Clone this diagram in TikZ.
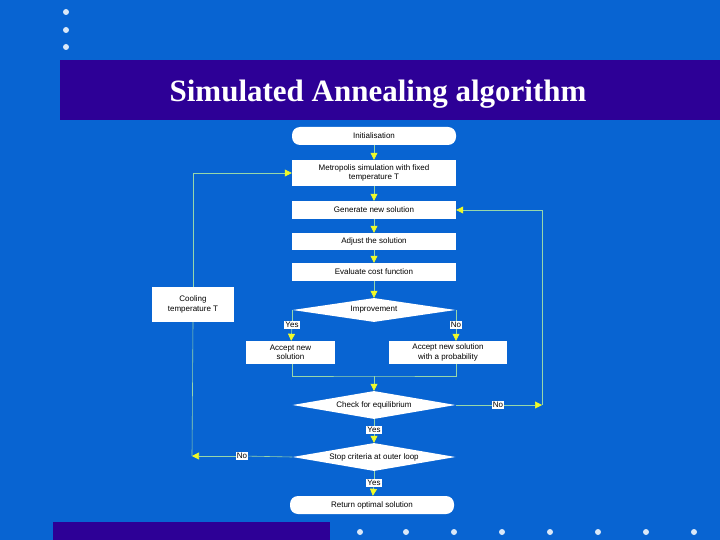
\documentclass[tikz,border=0pt]{standalone}
\usepackage{fontspec}
\setmainfont{Liberation Sans}
\newfontfamily\titlefont{Liberation Serif}
\usetikzlibrary{shapes.geometric,arrows.meta}
\definecolor{bg}{RGB}{8,100,210}
\definecolor{band}{RGB}{45,0,150}
\definecolor{ln}{RGB}{150,215,170}
\definecolor{tip}{RGB}{240,250,40}
\tikzset{
 box/.style={draw=none,fill=white,minimum height=#1,inner sep=0pt,align=center,font=\fontsize{8}{9.5}\selectfont},
 rbox/.style={box=18pt,rounded corners=8pt},
 dia/.style={diamond,fill=white,aspect=6,inner sep=0pt,align=center,font=\fontsize{8}{9.5}\selectfont},
 lab/.style={fill=white,inner sep=1pt,font=\fontsize{8}{9.5}\selectfont},
 con/.style={draw=ln,line width=0.6pt},
 arr/.style={con,-{Triangle[length=7pt,width=7pt,fill=tip,color=tip]}},
 dot/.style={circle,fill=white!85!bg,inner sep=0pt,minimum size=6pt}
}
\begin{document}
\begin{tikzpicture}[x=1pt,y=-1pt]
\fill[bg] (0,0) rectangle (720,540);
\useasboundingbox (0,0) rectangle (720,540);
\fill[band] (60,60) rectangle (720,120);
\node[text=white,font=\titlefont\bfseries\fontsize{31}{34}\selectfont] (title) at (378,94) {Simulated Annealing algorithm};
\foreach \y [count=\i] in {12,30,47} \node[dot] (ld\i) at (66,\y) {};
\fill[band] (53,522) rectangle (330,540);
\foreach \x [count=\i] in {360,406,454,502,550,598,646,694} \node[dot] (bd\i) at (\x,532) {};
\node[rbox,minimum width=164pt] (init) at (374,136) {Initialisation};
\node[box=26pt,minimum width=164pt] (met) at (374,173) {Metropolis simulation with fixed\\temperature T};
\node[box=18pt,minimum width=164pt] (gen) at (374,210) {Generate new solution};
\node[box=17pt,minimum width=164pt] (adj) at (374,241.5) {Adjust the solution};
\node[box=18pt,minimum width=164pt] (eva) at (374,272) {Evaluate cost function};
\node[dia,minimum width=163pt,minimum height=24pt] (imp) at (374,310) {Improvement};
\node[box=23pt,minimum width=89pt] (acc) at (290.5,352.5) {Accept new\\solution};
\node[box=23pt,minimum width=118pt] (acp) at (448,352.5) {Accept new solution\\with a probability};
\node[dia,minimum width=163pt,minimum height=28pt] (chk) at (374,405) {Check for equilibrium};
\node[dia,minimum width=163pt,minimum height=28pt] (stp) at (374,457) {Stop criteria at outer loop};
\node[rbox,minimum width=164pt] (ret) at (372,505) {Return optimal solution};
\node[box=35pt,minimum width=82pt] (cool) at (193,304.5) {Cooling\\temperature T};
\coordinate (m) at (374,376);
\coordinate (r) at (542,405);
\node[lab] (y1) at (292,325) {Yes};
\node[lab] (n1) at (456,325) {No};
\node[lab] (n2) at (498,405) {No};
\node[lab] (y2) at (374,430) {Yes};
\node[lab] (n3) at (242,456) {No};
\node[lab] (y3) at (374,483) {Yes};
\draw[arr] (init) -- (met);
\draw[arr] (met) -- (gen);
\draw[arr] (gen) -- (adj);
\draw[arr] (adj) -- (eva);
\draw[arr] (eva) -- (imp);
\draw[con] (imp.west) -| (y1.north);
\draw[arr] (y1) -- (acc);
\draw[con] (imp.east) -| (n1.north);
\draw[arr] (n1) -- (acp.north -| n1);
\draw[con] (acc.south -| y1) |- (m) -| (acp.south -| n1);
\draw[arr] (m) -- (chk.north);
\draw[con] (chk.east) -- (n2);
\draw[arr] (n2) -- (r);
\draw[arr] (r) |- (gen.east);
\draw[con] (chk.south) -- (y2);
\draw[arr] (y2) -- (stp.north);
\draw[con] (stp.west) -- (n3);
\draw[arr] (n3) -- (192,456);
\draw[con] (192,456) -- (cool.south);
\draw[arr] (cool.north) |- (met.west);
\draw[con] (stp.south) -- (y3);
\draw[arr] (y3) -- (ret);
\end{tikzpicture}
\end{document}
